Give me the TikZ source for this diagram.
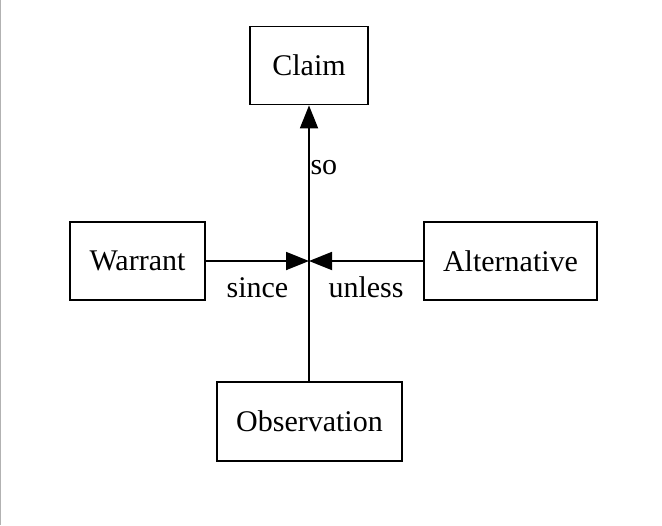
\documentclass[tikz,border=0pt]{standalone}
\usepackage{fontspec}
\setmainfont{Liberation Serif}
\usepackage{tikz}
\usetikzlibrary{arrows.meta, positioning, calc}

\begin{document}
\begin{tikzpicture}[x=0.5pt, y=-0.5pt,
		box/.style={draw, line width=0.9pt, minimum height=39pt, inner sep=0pt, font=\fontsize{15}{18}\selectfont},
		flow/.style={line width=0.9pt, -{Triangle[length=11.5pt, width=9pt]}},
		lbl/.style={font=\fontsize{15}{18}\selectfont, inner sep=0pt}]
				\useasboundingbox (0,0) rectangle (662,525);
				\fill[white] (0,0) rectangle (662,525);
				\draw[gray!60, line width=0.5pt] (0.5,0) -- (0.5,525);
				\node[box, minimum width=59pt] (claim) at (309,65.5) {Claim};
				\node[box, minimum width=67.5pt] (warrant) at (137.5,261) {Warrant};
				\node[box, minimum width=86.5pt] (alternative) at (510.5,261) {Alternative};
				\node[box, minimum width=92.5pt, minimum height=39.5pt] (observation) at (309.5,421.5) {Observation};
				\coordinate (junction) at (309,261);
				\draw[flow] (observation.north -| junction) -- (claim.south -| junction) node[lbl, pos=0.75, anchor=base west, xshift=0.3pt] {so};
				\draw[flow] (warrant.east) -- (junction) node[lbl, midway, anchor=base, yshift=-18pt] {since};
				\draw[flow] (alternative.west) -- (junction) node[lbl, midway, anchor=base, yshift=-18pt] {unless};
			\end{tikzpicture}
\end{document}
